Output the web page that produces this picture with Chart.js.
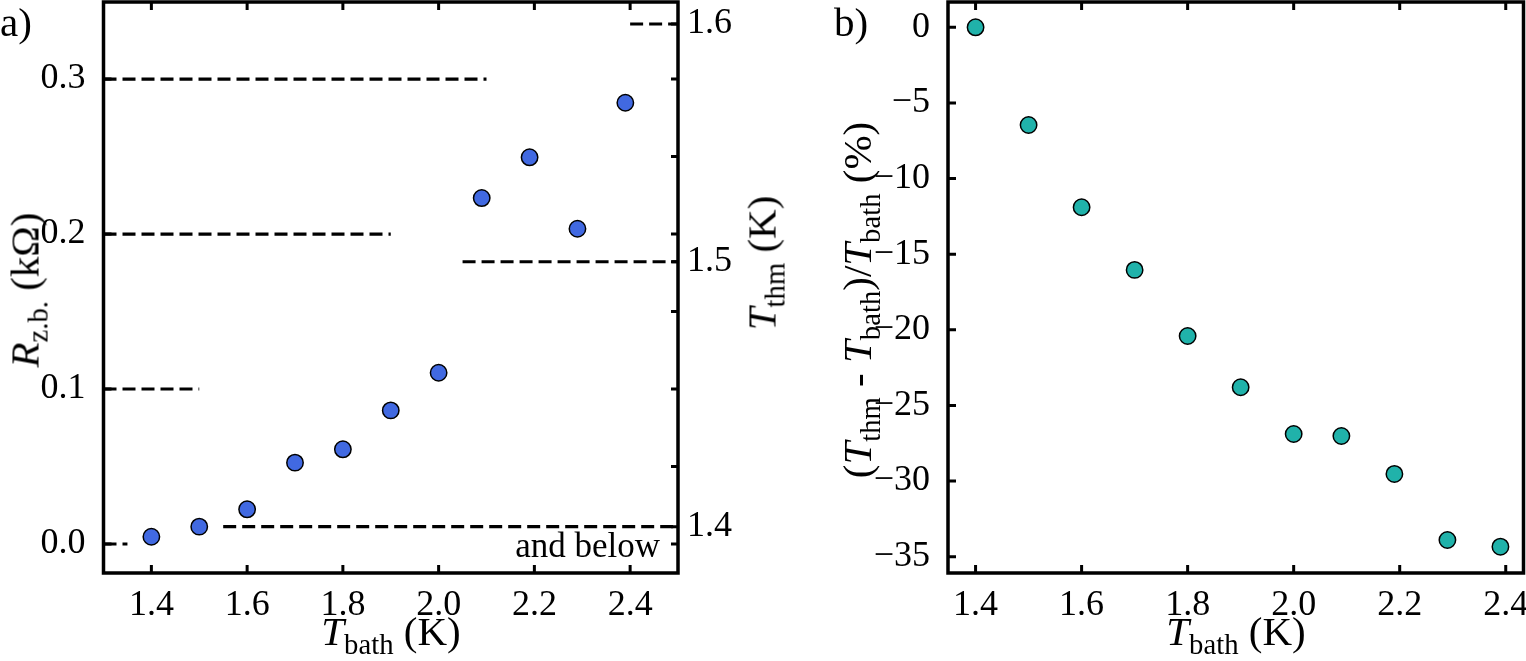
<!DOCTYPE html>
<html>
<head>
<meta charset="utf-8">
<script src="https://cdn.jsdelivr.net/npm/chart.js@4.4.0/dist/chart.umd.min.js"></script>
<style>
  html, body { margin: 0; padding: 0; background: #fff; }
  #wrap { position: relative; width: 1526px; height: 661px; overflow: hidden;
          font-family: 'Liberation Serif', 'Times New Roman', serif; color: #000; }
  canvas { position: absolute; top: 0; }
  #chartA { left: 0; }
  #chartB { left: 800px; }
  .lbl { position: absolute; font-size: 41px; line-height: 41px; white-space: nowrap; }
  .lbl i { font-style: italic; }
  .lbl sub { font-size: 0.7em; vertical-align: -0.32em; line-height: 0; }
  .rot { transform: translate(-50%, -50%) rotate(-90deg); }
  .hc { transform: translateX(-50%); }
  .note { font-size: 35px; line-height: 35px; transform: translateX(-100%); }
</style>
</head>
<body>
<div id="wrap">
  <canvas id="chartA" width="800" height="661"></canvas>
  <canvas id="chartB" width="726" height="661"></canvas>

  <div class="lbl" style="left:0px; top:2px;">a)</div>
  <div class="lbl" style="left:834px; top:2px;">b)</div>

  <div class="lbl hc" style="left:391px; top:611px;"><i>T</i><sub>bath</sub> (K)</div>
  <div class="lbl hc" style="left:1236px; top:611px;"><i>T</i><sub>bath</sub> (K)</div>

  <div class="lbl rot" style="left:25px; top:290px;"><i>R</i><sub>z.b.</sub> (kΩ)</div>
  <div class="lbl rot" style="left:762px; top:263px;"><i>T</i><sub>thm</sub> (K)</div>
  <div class="lbl rot" style="left:857px; top:300px;">(<i>T</i><sub>thm</sub> - <i>T</i><sub>bath</sub>)/<i>T</i><sub>bath</sub> (%)</div>

  <div class="lbl note" style="left:660px; top:528px;">and below</div>
</div>

<script>
// bath temperature for each measurement (K)
const tBath = [1.4, 1.5, 1.6, 1.7, 1.8, 1.9, 2.0, 2.09, 2.19, 2.29, 2.39];
// zero-bias resistance (kOhm), panel a
const rZb = [0.0047, 0.0112, 0.0224, 0.0525, 0.0611, 0.0862, 0.1105, 0.2232, 0.2495, 0.2034, 0.2847];
// relative thermometer error (%), panel b
const tempError = [0, -6.46, -11.9, -16.04, -20.41, -23.8, -26.89, -27.02, -29.53, -33.9, -34.34];

// ticks
const tBathTicks = [1.4, 1.6, 1.8, 2.0, 2.2, 2.4];
const rTicks = [0, 0.1, 0.2, 0.3];
const rRightTicks = [0, 0.05, 0.1, 0.15, 0.2, 0.25, 0.3];
const thmTickLabels = ['1.4', '1.5', '1.6'];
const thmTickR = [0.0112, 0.1821, 0.3355];
const errTicks = [0, -5, -10, -15, -20, -25, -30, -35];

// dashed calibration guides
const rGuideLevels = [0.3, 0.2, 0.1, 0.0];
const rGuideEndT = [2.1, 1.9, 1.5, 1.35];
const thmGuideStartT = [1.55, 2.05, 2.4];

const serif = "'Liberation Serif', 'Times New Roman', serif";
const TICK_LEN = 8;

Chart.defaults.font.family = serif;
Chart.defaults.color = '#000';

function noPadding(scale) {
    scale.paddingTop = 0;
    scale.paddingBottom = 0;
    scale.paddingLeft = 0;
    scale.paddingRight = 0;
}

function axis(opts) {
    return {
        type: 'linear',
        position: opts.position,
        min: opts.min,
        max: opts.max,
        grid: { display: false, drawTicks: false },
        border: { display: false },
        ticks: {
            font: { family: serif, size: 36 },
            color: '#000',
            padding: opts.padding,
            autoSkip: false,
            maxRotation: 0,
            callback: opts.label
        },
        afterBuildTicks: s => { s.ticks = opts.ticks.map(v => ({ value: v })); },
        afterFit: s => {
            if (opts.width !== undefined) s.width = opts.width;
            if (opts.height !== undefined) s.height = opts.height;
            noPadding(s);
        }
    };
}

// inward ticks + frame, matplotlib style
function frameTicks(cfg) {
    return {
        id: 'frameTicks',
        afterDatasetsDraw(chart) {
            const { ctx, chartArea: a, scales } = chart;
            ctx.save();
            ctx.strokeStyle = '#000';
            ctx.lineWidth = 3;
            ctx.beginPath();
            cfg.xTicks.forEach(v => {
                const px = scales.x.getPixelForValue(v);
                ctx.moveTo(px, a.bottom); ctx.lineTo(px, a.bottom - TICK_LEN);
                ctx.moveTo(px, a.top); ctx.lineTo(px, a.top + TICK_LEN);
            });
            cfg.leftTicks.forEach(v => {
                const py = scales.y.getPixelForValue(v);
                ctx.moveTo(a.left, py); ctx.lineTo(a.left + TICK_LEN, py);
            });
            (cfg.rightTicks || []).forEach(v => {
                const py = scales.y2.getPixelForValue(v);
                ctx.moveTo(a.right, py); ctx.lineTo(a.right - 7, py);
            });
            ctx.stroke();
            ctx.lineWidth = 3.5;
            ctx.strokeRect(a.left, a.top, a.right - a.left, a.bottom - a.top);
            ctx.restore();
        }
    };
}

function guide(x0, x1, y, axisId) {
    return {
        type: 'line',
        data: [{ x: x0, y: y }, { x: x1, y: y }],
        yAxisID: axisId,
        borderColor: '#000',
        borderWidth: 3.2,
        borderDash: [13, 6],
        pointRadius: 0,
        fill: false,
        order: 2
    };
}

// ---- panel a ----
const xMinA = 1.3, xMaxA = 2.5;
const rMin = -0.0187, rMax = 0.3497;

const guidesA = rGuideLevels.map((r, i) => guide(xMinA, rGuideEndT[i], r, 'y'))
    .concat(thmTickR.map((r, i) => guide(thmGuideStartT[i], xMaxA, r, 'y2')));

new Chart(document.getElementById('chartA'), {
    type: 'scatter',
    data: {
        datasets: [{
            data: tBath.map((t, i) => ({ x: t, y: rZb[i] })),
            yAxisID: 'y',
            backgroundColor: '#4169E1',
            borderColor: '#000',
            borderWidth: 1.5,
            pointRadius: 8.2,
            order: 1
        }].concat(guidesA)
    },
    options: {
        responsive: false,
        animation: false,
        layout: { autoPadding: false, padding: { top: 2, left: 0, right: 0, bottom: 0 } },
        plugins: { legend: { display: false }, tooltip: { enabled: false } },
        scales: {
            x: axis({ position: 'bottom', min: xMinA, max: xMaxA, ticks: tBathTicks, padding: 11,
                      height: 88, label: v => v.toFixed(1) }),
            y: axis({ position: 'left', min: rMin, max: rMax, ticks: rTicks, padding: 18,
                      width: 103.5, label: v => v.toFixed(1) }),
            y2: axis({ position: 'right', min: rMin, max: rMax, ticks: thmTickR, padding: 9,
                       width: 122, label: (v, i) => thmTickLabels[i] })
        }
    },
    plugins: [frameTicks({ xTicks: tBathTicks, leftTicks: rTicks, rightTicks: rRightTicks.concat(thmTickR) })]
});

// ---- panel b ----
new Chart(document.getElementById('chartB'), {
    type: 'scatter',
    data: {
        datasets: [{
            data: tBath.map((t, i) => ({ x: t, y: tempError[i] })),
            backgroundColor: '#20B2AA',
            borderColor: '#000',
            borderWidth: 1.5,
            pointRadius: 8.2
        }]
    },
    options: {
        responsive: false,
        animation: false,
        layout: { autoPadding: false, padding: { top: 2, left: 0, right: 2.5, bottom: 0 } },
        plugins: { legend: { display: false }, tooltip: { enabled: false } },
        scales: {
            x: axis({ position: 'bottom', min: 1.348, max: 2.4335, ticks: tBathTicks, padding: 11,
                      height: 88, label: v => v.toFixed(1) }),
            y: axis({ position: 'left', min: -36.08, max: 1.673, ticks: errTicks, padding: 18,
                      width: 148, label: v => v === 0 ? '0' : '\u2212' + Math.abs(v) })
        }
    },
    plugins: [frameTicks({ xTicks: tBathTicks, leftTicks: errTicks })]
});
</script>
</body>
</html>
